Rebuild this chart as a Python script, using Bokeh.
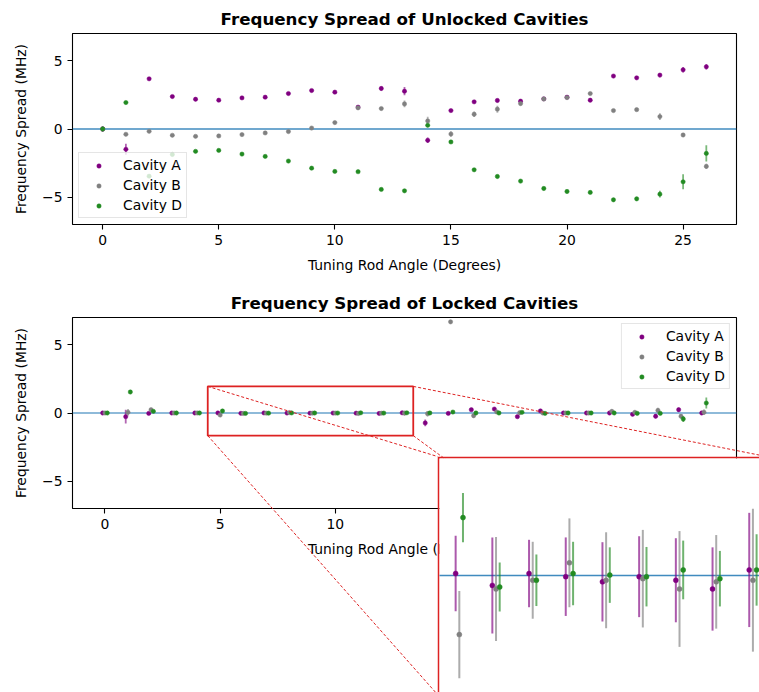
import numpy as np
from bokeh.plotting import figure
from bokeh.models import (Range1d, FixedTicker, CustomJSTickFormatter, Legend,
                          LegendItem, ColumnDataSource)
from bokeh.layouts import column
from bokeh.embed import file_html
from bokeh.resources import INLINE

# ---------------- data ----------------
angles = list(range(27))
series_names = ["Cavity A", "Cavity B", "Cavity D"]

unlocked_A = [0.0, -1.49, 3.68, 2.38, 2.18, 2.11, 2.28, 2.33, 2.60, 2.82, 2.70, 1.60, 2.97, 2.77,
              -0.83, 1.35, 1.99, 2.09, 2.04, 2.21, 2.33, 2.11, 3.88, 3.75, 3.95, 4.34, 4.56]
unlocked_B = [0.0, -0.39, -0.17, -0.46, -0.54, -0.51, -0.41, -0.29, -0.19, 0.07, 0.47, 1.55, 1.50, 1.84,
              0.59, -0.37, 1.08, 1.45, 1.86, 2.20, 2.30, 2.60, 1.35, 1.42, 0.91, -0.44, -2.74]
unlocked_D = [0.0, 1.94, -3.46, -1.87, -1.64, -1.57, -1.84, -2.01, -2.35, -2.87, -3.11, -3.13, -4.43, -4.53,
              0.27, -0.95, -2.99, -3.48, -3.82, -4.36, -4.58, -4.65, -5.19, -5.12, -4.78, -3.87, -1.79]
unlocked_errA = [0.2, 0.4, 0.1, 0.1, 0.1, 0.1, 0.1, 0.1, 0.1, 0.1, 0.12, 0.12, 0.15, 0.3,
                 0.2, 0.1, 0.1, 0.1, 0.15, 0.1, 0.1, 0.15, 0.1, 0.12, 0.15, 0.2, 0.2]
unlocked_errB = [0.2, 0.12, 0.1, 0.1, 0.1, 0.1, 0.12, 0.1, 0.1, 0.1, 0.12, 0.15, 0.12, 0.25,
                 0.3, 0.2, 0.2, 0.25, 0.15, 0.15, 0.12, 0.1, 0.1, 0.12, 0.25, 0.12, 0.2]
unlocked_errD = [0.1, 0.1, 0.1, 0.1, 0.1, 0.1, 0.1, 0.1, 0.1, 0.1, 0.1, 0.1, 0.1, 0.1,
                 0.1, 0.1, 0.1, 0.1, 0.1, 0.1, 0.1, 0.12, 0.15, 0.15, 0.25, 0.55, 0.6]

locked_A = [0.0, -0.27, -0.03, 0.0, 0.0, 0.005, -0.025, 0.005, -0.003, -0.016, -0.003, -0.012, -0.034, 0.014,
            -0.73, -0.03, 0.24, 0.29, -0.27, 0.15, 0.0, 0.0, 0.0, -0.10, -0.24, 0.24, 0.0]
locked_B = [0.0, 0.05, 0.24, 0.0, 0.0, -0.149, -0.034, -0.012, 0.032, -0.012, -0.008, -0.034, -0.016, -0.012,
            -0.05, 6.68, -0.20, 0.08, 0.02, 0.0, 0.0, 0.0, 0.12, 0.05, 0.19, -0.24, 0.05]
locked_D = [0.0, 1.54, 0.12, 0.0, 0.0, 0.146, -0.029, -0.012, 0.005, 0.001, -0.003, 0.014, -0.008, 0.014,
            0.0, 0.07, 0.0, 0.0, 0.05, -0.03, 0.0, 0.0, 0.0, -0.03, -0.03, -0.44, 0.73]
locked_errA = [0.1, 0.5, 0.1, 0.1, 0.1, 0.095, 0.121, 0.085, 0.099, 0.10, 0.102, 0.106, 0.105, 0.144,
               0.25, 0.12, 0.12, 0.12, 0.12, 0.12, 0.12, 0.12, 0.12, 0.12, 0.15, 0.15, 0.12]
locked_errB = [0.1, 0.25, 0.12, 0.1, 0.1, 0.11, 0.131, 0.097, 0.112, 0.121, 0.123, 0.146, 0.118, 0.18,
               0.2, 0.15, 0.15, 0.15, 0.15, 0.12, 0.12, 0.12, 0.15, 0.15, 0.2, 0.15, 0.2]
locked_errD = [0.1, 0.1, 0.1, 0.1, 0.1, 0.062, 0.062, 0.065, 0.08, 0.07, 0.075, 0.074, 0.07, 0.09,
               0.1, 0.1, 0.1, 0.1, 0.1, 0.1, 0.1, 0.1, 0.1, 0.1, 0.12, 0.22, 0.4]
locked_offsets = [-0.1, 0.0, 0.1]

x_ticks = [0, 5, 10, 15, 20, 25]
y_ticks = [-5, 0, 5]

# ---------------- style / layout constants ----------------
FONT = "DejaVu Sans"
COLORS = ["#800080", "#808080", "#228b22"]
ZERO_COLOR = "#1f77b4"
RED = "#dd2222"
PAGE_MARGIN = 0
FRAME_W, FRAME_H = 664, 191
FRAME_LEFT = 72
TOP_FRAME_TOP = 33
BOT_FIG_TOP = 280
BOT_FRAME_TOP = 317
Y_LIM = (-7, 7)
TOP_X = (-1.3, 27.3)
BOT_X = (-1.41, 27.41)
RECT = dict(x0=4.46, x1=13.38, y0=-1.66, y1=1.95)
INSET_Y = (-0.295, 0.295)
INSET_PX_PER_UNIT = 36.7
INSET_BORDER = 2
INSET_LEFT, INSET_TOP, INSET_W, INSET_H = 437, 456, 322, 236
INSET_RIGHT_VIRTUAL, INSET_BOTTOM_VIRTUAL = 766, 694
OV_X = (200, 759)
OV_Y = (380, 692)

fmt = CustomJSTickFormatter(code="return tick < 0 ? '\\u2212' + Math.abs(tick) : String(tick);")


def style_axes(p):
    p.outline_line_color = "black"
    p.outline_line_width = 1.1
    p.background_fill_color = "white"
    p.border_fill_color = "white"
    p.xgrid.visible = False
    p.ygrid.visible = False
    p.xaxis.ticker = FixedTicker(ticks=x_ticks)
    p.yaxis.ticker = FixedTicker(ticks=y_ticks)
    p.yaxis.formatter = fmt
    for ax in (p.xaxis[0], p.yaxis[0]):
        ax.axis_line_color = None
        ax.major_tick_in = 0
        ax.major_tick_out = 5
        ax.major_tick_line_width = 1.1
        ax.major_tick_line_color = "black"
        ax.minor_tick_line_color = None
        ax.major_label_text_font = FONT
        ax.major_label_text_font_size = "13.9px"
        ax.major_label_text_color = "black"
        ax.major_label_standoff = 5
        ax.axis_label_text_font = FONT
        ax.axis_label_text_font_size = "13.9px"
        ax.axis_label_text_font_style = "normal"
        ax.axis_label_text_color = "black"
    p.xaxis.axis_label = "Tuning Rod Angle (Degrees)"
    p.yaxis.axis_label = "Frequency Spread (MHz)"
    p.xaxis.axis_label_standoff = 9
    p.yaxis.axis_label_standoff = 10
    p.title.text_font = FONT
    p.title.text_font_size = "16.7px"
    p.title.text_font_style = "bold"
    p.title.text_color = "black"
    p.title.align = "center"
    p.title.standoff = 10


def add_series(p, xs, ys, errs, color, size, width, alpha):
    src = ColumnDataSource(dict(x=xs, y=ys,
                                lo=[a - b for a, b in zip(ys, errs)],
                                hi=[a + b for a, b in zip(ys, errs)]))
    p.segment(x0="x", y0="lo", x1="x", y1="hi", source=src, line_color=color,
              line_width=width, line_alpha=alpha)
    return p.scatter(x="x", y="y", source=src, size=size, fill_color=color,
                     line_color=color, line_width=0.5)


def make_legend(p, renderers, loc):
    leg = Legend(items=[LegendItem(label=n, renderers=[r]) for n, r in zip(series_names, renderers)],
                 location=loc, margin=6, padding=4, spacing=4, glyph_width=31, glyph_height=11,
                 label_height=16, label_standoff=9, label_text_font=FONT,
                 label_text_font_size="13.9px", label_text_color="black",
                 border_line_color="#cccccc", border_line_width=1, background_fill_alpha=0.8)
    p.add_layout(leg)


# ---------------- top: unlocked ----------------
p1 = figure(frame_width=FRAME_W, frame_height=FRAME_H, output_backend="svg", toolbar_location=None,
            x_range=Range1d(*TOP_X), y_range=Range1d(*Y_LIM),
            title="Frequency Spread of Unlocked Cavities",
            min_border_left=FRAME_LEFT - PAGE_MARGIN, min_border_right=15,
            min_border_top=TOP_FRAME_TOP - PAGE_MARGIN,
            min_border_bottom=BOT_FIG_TOP - TOP_FRAME_TOP - FRAME_H)
style_axes(p1)
p1.line(x=list(TOP_X), y=[0, 0], line_color=ZERO_COLOR, line_width=1.5, line_alpha=0.85)
r_top = []
for ys, es, c in zip([unlocked_A, unlocked_B, unlocked_D], [unlocked_errA, unlocked_errB, unlocked_errD], COLORS):
    r_top.append(add_series(p1, angles, ys, es, c, 4.3, 1.8, 0.6))
make_legend(p1, r_top, "bottom_left")

# ---------------- bottom: locked ----------------
p2 = figure(frame_width=FRAME_W, frame_height=FRAME_H, output_backend="svg", toolbar_location=None,
            x_range=Range1d(*BOT_X), y_range=Range1d(*Y_LIM),
            title="Frequency Spread of Locked Cavities",
            min_border_left=FRAME_LEFT - PAGE_MARGIN, min_border_right=15,
            min_border_top=BOT_FRAME_TOP - BOT_FIG_TOP, min_border_bottom=60)
style_axes(p2)
p2.line(x=list(BOT_X), y=[0, 0], line_color=ZERO_COLOR, line_width=1.1)
locked = [locked_A, locked_B, locked_D]
locked_err = [locked_errA, locked_errB, locked_errD]
r_bot = []
for ys, es, c, off in zip(locked, locked_err, COLORS, locked_offsets):
    xs = [a + off for a in angles]
    r_bot.append(add_series(p2, xs, ys, es, c, 4.3, 1.8, 0.6))
make_legend(p2, r_bot, "top_right")
p2.quad(left=[RECT["x0"]], right=[RECT["x1"]], bottom=[RECT["y0"]], top=[RECT["y1"]],
        fill_color=None, line_color=RED, line_width=1.8)


# ---------------- connector lines (page-pixel overlay) ----------------
def bot_to_page(x, y):
    px = FRAME_LEFT + (x - BOT_X[0]) / (BOT_X[1] - BOT_X[0]) * FRAME_W
    py = BOT_FRAME_TOP + (Y_LIM[1] - y) / (Y_LIM[1] - Y_LIM[0]) * FRAME_H
    return px, py


rect_corners = [bot_to_page(RECT["x0"], RECT["y1"]), bot_to_page(RECT["x1"], RECT["y1"]),
                bot_to_page(RECT["x0"], RECT["y0"]), bot_to_page(RECT["x1"], RECT["y0"])]
inset_corners = [(INSET_LEFT, INSET_TOP), (INSET_RIGHT_VIRTUAL, INSET_TOP),
                 (INSET_LEFT, INSET_BOTTOM_VIRTUAL), (INSET_RIGHT_VIRTUAL, INSET_BOTTOM_VIRTUAL)]

p_ov = figure(width=OV_X[1] - OV_X[0], height=OV_Y[1] - OV_Y[0], output_backend="svg",
              toolbar_location=None, x_range=Range1d(*OV_X), y_range=Range1d(OV_Y[1], OV_Y[0]),
              x_axis_location=None, y_axis_location=None, min_border=0,
              styles={"position": "absolute", "left": f"{OV_X[0] - PAGE_MARGIN}px",
                      "top": f"{OV_Y[0] - PAGE_MARGIN}px"})
p_ov.background_fill_alpha = 0
p_ov.border_fill_alpha = 0
p_ov.outline_line_color = None
p_ov.xgrid.visible = False
p_ov.ygrid.visible = False
p_ov.segment(x0=[c[0] for c in rect_corners], y0=[c[1] for c in rect_corners],
             x1=[c[0] for c in inset_corners], y1=[c[1] for c in inset_corners],
             line_color=RED, line_width=1, line_dash="3 2")

# ---------------- inset ----------------
inset_x = (RECT["x0"], RECT["x0"] + (INSET_W - INSET_BORDER) / INSET_PX_PER_UNIT)
p_in = figure(width=INSET_W, height=INSET_H, output_backend="svg", toolbar_location=None,
              x_range=Range1d(*inset_x), y_range=Range1d(*INSET_Y),
              x_axis_location=None, y_axis_location=None,
              min_border_left=INSET_BORDER, min_border_top=INSET_BORDER,
              min_border_right=0, min_border_bottom=0,
              styles={"position": "absolute", "left": f"{INSET_LEFT - PAGE_MARGIN}px",
                      "top": f"{INSET_TOP - PAGE_MARGIN}px"})
p_in.border_fill_color = RED
p_in.background_fill_color = "white"
p_in.outline_line_color = None
p_in.xgrid.visible = False
p_in.ygrid.visible = False
p_in.line(x=list(BOT_X), y=[0, 0], line_color=ZERO_COLOR, line_width=1.6, line_alpha=0.85)
for ys, es, c, off in zip(locked, locked_err, COLORS, locked_offsets):
    xs = [a + off for a in angles]
    add_series(p_in, xs, ys, es, c, 5, 2, 0.65)

main = column(p1, p2)
open("out.html", "w").write(file_html([main, p_ov, p_in], INLINE))
